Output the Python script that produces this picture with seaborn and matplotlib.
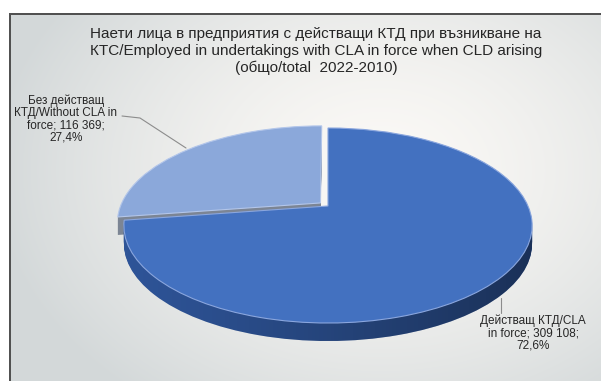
import numpy as np
import seaborn as sns
import matplotlib
matplotlib.use("Agg")
import matplotlib.pyplot as plt
import matplotlib.transforms as mtransforms
from matplotlib.lines import Line2D

# ---- data -------------------------------------------------------------
title_lines = [
    "Наети лица в предприятия с действащи КТД при възникване на",
    "КТС/Employed in undertakings with CLA in force when CLD arising",
    "(общо/total  2022-2010)",
]
categories = ["Действащ КТД/CLA\nin force", "Без действащ\nКТД/Without CLA in\nforce"]
employed = [309108, 116369]
slice_colors = ["#4371c0", "#8ba8da"]
side_colors = ["#2f569b", "#7c8594"]
edge_colors = ["#8aa6de", "#b3c6ea"]
explode = [0.0, 0.05]

sns.set_theme(style="white")
plt.rcParams["font.family"] = ["Liberation Sans", "DejaVu Sans"]

W, H = 601, 381
fig = plt.figure(figsize=(W / 100, H / 100), dpi=100)

# ---- framed, softly shaded background ---------------------------------
yy, xx = np.mgrid[0:H, 0:W]
dist = np.hypot((xx - 380) / 390.0, (yy - 170) / 290.0)
t = np.clip(dist, 0, 1) ** 1.5
c_in = np.array([251, 249, 246]) / 255.0
c_out = np.array([211, 216, 217]) / 255.0
bg_img = c_in * (1 - t[..., None]) + c_out * t[..., None]
bg_img[yy < 13] = 1.0
bg_img[xx < 9] = 1.0
bg_img[(yy >= 13) & (yy < 15) & (xx >= 9)] = 0.32
bg_img[(xx >= 9) & (xx < 11) & (yy >= 13)] = 0.32
bg = fig.add_axes([0, 0, 1, 1])
bg.imshow(bg_img, aspect="auto", interpolation="bilinear")
bg.axis("off")


class Tilt(mtransforms.Transform):
    """Perspective tilt of the pie plane: the far side shrinks."""
    input_dims = output_dims = 2
    is_separable = False
    has_inverse = False

    def __init__(self, c):
        super().__init__()
        self.c = c

    def transform_non_affine(self, values):
        v = np.asarray(values, dtype=float)
        s = 1.0 / (1.0 + self.c * v[:, 1])
        return np.column_stack([v[:, 0] * s, v[:, 1] * s])


# pie axes: one x unit = 200 px, one y unit = 93.6 px, centre at (328, 206)
px0, px1, py0, py1 = 100, 560, 100, 360
cx, cy, ux, uy = 328, 206, 200.0, 93.6
ax = fig.add_axes([px0 / W, (H - py1) / H, (px1 - px0) / W, (py1 - py0) / H])
ax.patch.set_alpha(0)
tilt = Tilt(0.2)
depth = 18

pie_kw = dict(startangle=90, counterclock=False, explode=explode,
              wedgeprops=dict(linewidth=0))

# side walls: stacked copies shifted downward
bottom_big = None
for d in range(depth, 0, -1):
    wedges, _ = ax.pie(employed, colors=side_colors, **pie_kw)
    shift = tilt + ax.transData + mtransforms.Affine2D().translate(0, -d)
    for w in wedges:
        w.set_transform(shift)
        w.set_zorder(1)
    if bottom_big is None:
        bottom_big = wedges[0]

# darker shading towards the right side of the wall
gx = np.linspace(0, 1, 256)
shade = np.zeros((2, 256, 4))
shade[..., 3] = 0.48 * gx[None, :] ** 1.2
im = ax.imshow(shade, extent=(-1.2, 1.2, -1.9, 0.5), aspect="auto", zorder=1.5)
im.set_clip_path(bottom_big)

# top faces
tops, _ = ax.pie(employed, colors=slice_colors, **pie_kw)
for w, ec in zip(tops, edge_colors):
    w.set_transform(tilt + ax.transData)
    w.set_edgecolor(ec)
    w.set_linewidth(0.8)
    w.set_zorder(2)

ax.set_aspect("auto")
ax.set_xlim((px0 - cx) / ux, (px1 - cx) / ux)
ax.set_ylim((cy - py1) / uy, (cy - py0) / uy)
ax.axis("off")

# ---- texts ------------------------------------------------------------
fig.text(316 / W, 1 - 51 / H, "\n".join(title_lines), ha="center", va="center",
         fontsize=11, color="#262626", linespacing=1.22)

total = sum(employed)


def label_text(cat, v):
    num = f"{v:,}".replace(",", " ")
    pct = f"{100 * v / total:.1f}".replace(".", ",")
    return f"{cat}; {num};\n{pct}%"


label_pos = [(533, 333), (66, 119)]
for cat, v, (lx, ly) in zip(categories, employed, label_pos):
    fig.text(lx / W, 1 - ly / H, label_text(cat, v), ha="center", va="center",
             multialignment="center", fontsize=8.5, color="#262626",
             linespacing=1.05)

# leader lines
for xs, ys in [([122, 140, 186], [116, 118, 148]), ([500.5, 500.5], [298, 313])]:
    fig.add_artist(Line2D([x / W for x in xs], [1 - y / H for y in ys],
                          transform=fig.transFigure, color="#8c8c8c", lw=0.8))

fig.savefig("out.png", dpi=100)
